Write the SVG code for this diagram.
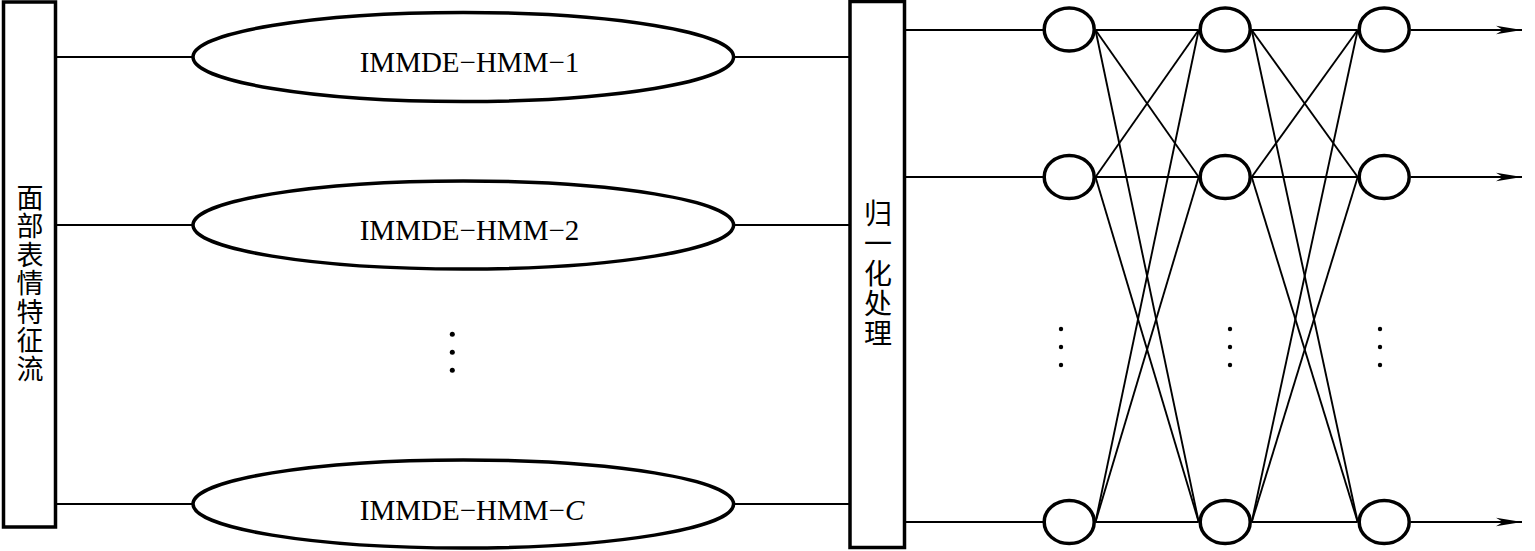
<svg xmlns="http://www.w3.org/2000/svg" width="1535" height="551" viewBox="0 0 1535 551">
<style>
.box{fill:none;stroke:#000;stroke-width:3.5}
.ell{fill:none;stroke:#000;stroke-width:3.5}
.node{fill:none;stroke:#000;stroke-width:3.5}
.ln{stroke:#000;stroke-width:2;fill:none}
.net{stroke:#000;stroke-width:1.9;fill:none}
.lbl{font-family:"Liberation Serif","Times New Roman",serif;font-size:29px;fill:#000;text-anchor:middle}
.cjk{font-family:"Noto Sans CJK SC","Noto Sans CJK JP",sans-serif;fill:#000;writing-mode:vertical-rl;text-anchor:start}
.dot{fill:#000}
</style>
<defs>
<marker id="arr" markerUnits="userSpaceOnUse" viewBox="0 0 26 10" refX="26" refY="5" markerWidth="26" markerHeight="10" orient="auto">
<path d="M0,0.8 L26,5 L0,9.2 L7,5 z" fill="#000"/>
</marker>
</defs>
<rect width="1535" height="551" fill="#fff"/>

<g id="connectors">
<line class="ln" x1="57" y1="57" x2="193" y2="57"/>
<line class="ln" x1="57" y1="225" x2="193" y2="225"/>
<line class="ln" x1="57" y1="504" x2="193" y2="504"/>
<line class="ln" x1="733.5" y1="57" x2="850" y2="57"/>
<line class="ln" x1="733.5" y1="225" x2="850" y2="225"/>
<line class="ln" x1="733.5" y1="504" x2="850" y2="504"/>
<line class="ln" x1="905" y1="30" x2="1043" y2="30"/>
<line class="ln" x1="905" y1="177" x2="1043" y2="177"/>
<line class="ln" x1="905" y1="522" x2="1043" y2="522"/>
<!-- col1 to col2 -->
<line class="net" x1="1095.5" y1="30" x2="1198.7" y2="30"/>
<line class="net" x1="1095.5" y1="30" x2="1198.7" y2="177"/>
<line class="net" x1="1095.5" y1="30" x2="1198.7" y2="522"/>
<line class="net" x1="1095.5" y1="177" x2="1198.7" y2="30"/>
<line class="net" x1="1095.5" y1="177" x2="1198.7" y2="177"/>
<line class="net" x1="1095.5" y1="177" x2="1198.7" y2="522"/>
<line class="net" x1="1095.5" y1="522" x2="1198.7" y2="30"/>
<line class="net" x1="1095.5" y1="522" x2="1198.7" y2="177"/>
<line class="net" x1="1095.5" y1="522" x2="1198.7" y2="522"/>
<!-- col2 to col3 -->
<line class="net" x1="1251.7" y1="30" x2="1357.7" y2="30"/>
<line class="net" x1="1251.7" y1="30" x2="1357.7" y2="177"/>
<line class="net" x1="1251.7" y1="30" x2="1357.7" y2="522"/>
<line class="net" x1="1251.7" y1="177" x2="1357.7" y2="30"/>
<line class="net" x1="1251.7" y1="177" x2="1357.7" y2="177"/>
<line class="net" x1="1251.7" y1="177" x2="1357.7" y2="522"/>
<line class="net" x1="1251.7" y1="522" x2="1357.7" y2="30"/>
<line class="net" x1="1251.7" y1="522" x2="1357.7" y2="177"/>
<line class="net" x1="1251.7" y1="522" x2="1357.7" y2="522"/>
<!-- outputs -->
<line class="ln" x1="1410.7" y1="30" x2="1522" y2="30" marker-end="url(#arr)"/>
<line class="ln" x1="1410.7" y1="177" x2="1522" y2="177" marker-end="url(#arr)"/>
<line class="ln" x1="1410.7" y1="522" x2="1522" y2="522" marker-end="url(#arr)"/>
</g>

<g id="input">
<rect class="box" x="3.5" y="2" width="52" height="525"/>
<text class="cjk" x="30" y="184" style="font-size:27px;letter-spacing:1.5px">面部表情特征流</text>
</g>

<g id="hmm1">
<ellipse class="ell" cx="463.3" cy="57" rx="270.3" ry="44.5"/>
<text class="lbl" x="469.5" y="72">IMMDE−HMM−1</text>
</g>
<g id="hmm2">
<ellipse class="ell" cx="463.3" cy="225" rx="270.3" ry="44"/>
<text class="lbl" x="469.5" y="240">IMMDE−HMM−2</text>
</g>
<g id="hmm-dots">
<circle class="dot" cx="452.3" cy="334.3" r="2.5"/>
<circle class="dot" cx="452.3" cy="352.3" r="2.5"/>
<circle class="dot" cx="452.3" cy="370.3" r="2.5"/>
</g>
<g id="hmmC">
<ellipse class="ell" cx="463.3" cy="504" rx="270.3" ry="44"/>
<text class="lbl" x="472" y="520">IMMDE−HMM−<tspan font-style="italic">C</tspan></text>
</g>

<g id="normalize">
<rect class="box" x="850" y="1.5" width="54.5" height="546"/>
<text class="cjk" x="878" y="199" style="font-size:28px;letter-spacing:2px">归一化处理</text>
</g>

<g id="n11"><ellipse class="node" cx="1069.2" cy="29.5" rx="25" ry="21.5"/></g>
<g id="n21"><ellipse class="node" cx="1069.2" cy="177" rx="25" ry="21.5"/></g>
<g id="n31"><ellipse class="node" cx="1069.2" cy="522" rx="25" ry="21.5"/></g>
<g id="n12"><ellipse class="node" cx="1225.2" cy="29.5" rx="25" ry="21.5"/></g>
<g id="n22"><ellipse class="node" cx="1225.2" cy="177" rx="25" ry="21.5"/></g>
<g id="n32"><ellipse class="node" cx="1225.2" cy="522" rx="25" ry="21.5"/></g>
<g id="n13"><ellipse class="node" cx="1384.2" cy="29.5" rx="25" ry="21.5"/></g>
<g id="n23"><ellipse class="node" cx="1384.2" cy="177" rx="25" ry="21.5"/></g>
<g id="n33"><ellipse class="node" cx="1384.2" cy="522" rx="25" ry="21.5"/></g>

<g id="net-dots">
<circle class="dot" cx="1061" cy="329" r="2.2"/>
<circle class="dot" cx="1061" cy="347" r="2.2"/>
<circle class="dot" cx="1061" cy="365" r="2.2"/>
<circle class="dot" cx="1230" cy="329" r="2.2"/>
<circle class="dot" cx="1230" cy="347" r="2.2"/>
<circle class="dot" cx="1230" cy="365" r="2.2"/>
<circle class="dot" cx="1380" cy="329" r="2.2"/>
<circle class="dot" cx="1380" cy="347" r="2.2"/>
<circle class="dot" cx="1380" cy="365" r="2.2"/>
</g>
</svg>
